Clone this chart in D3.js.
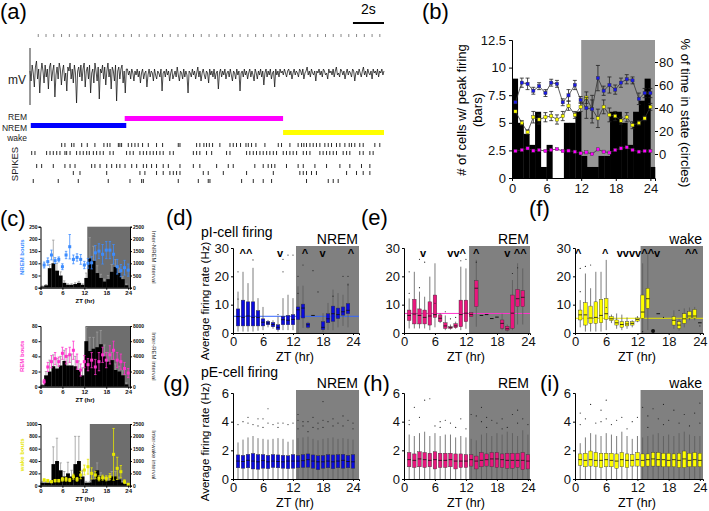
<!DOCTYPE html>
<html><head><meta charset="utf-8">
<script src="https://cdn.jsdelivr.net/npm/d3@7"></script>
<style>
body{margin:0;background:#fff}
svg{display:block}
text{font-family:"Liberation Sans",Arial,sans-serif}
</style></head>
<body><svg id="fig" width="709" height="511"></svg>
<script>
// ---------------- DATA ----------------
// (a) EEG trace (mV, arbitrary), spikes (s), sleep states
const traceSeconds = 22.8;
const traceMV = [0.2,-0.3,0.5,0.1,-0.6,0.4,0.7,-0.2,0.3,-0.9,0.1,0.6,0.2,-0.4,0.5,-0.1,0.3,-0.7,0.4,0.6,-0.3,0.2,0.5,-1.1,0.0,0.4,-0.2,0.6,0.3,-0.5,0.2,0.5,-0.3,0.1,-0.8,0.4,0.2,0.6,-0.2,0.3,-0.4,0.5,0.1,-1.4,0.2,0.4,-0.1,0.5,-0.3,0.3,0.6,-0.6,0.2,0.4,-0.2,0.5,-0.9,0.1,0.3,-0.4,0.6,0.2,-0.3,0.4,-1.2,0.3,0.1,0.5,-0.2,0.4,-0.5,0.2,0.6,-0.1,0.3,-0.7,0.4,0.2,-0.3,0.5,-1.3,0.2,0.4,-0.2,0.3,0.5,-0.4,0.2,-0.9,0.3,
0.3,0.0,0.2,-0.2,0.3,0.1,-0.3,0.2,0.0,0.3,-0.1,0.2,-0.4,0.1,0.3,-0.2,0.1,0.2,-0.6,0.0,0.3,-0.1,0.2,0.1,-0.3,0.3,0.0,-0.2,0.2,0.1,-0.1,0.3,-0.8,0.1,0.2,-0.1,0.3,0.0,0.2,-0.3,0.1,0.3,-0.2,0.0,0.2,-0.1,0.4,0.0,-0.3,0.2,0.1,-0.2,0.3,-0.1,0.2,0.0,-0.9,0.2,0.1,-0.1,0.3,0.0,0.2,-0.2,0.1,0.4,-0.1,0.2,-0.3,0.1,0.3,0.0,-0.2,0.2,0.1,-0.4,0.3,0.0,0.2,-0.1,0.3,-0.2,0.1,0.2,-0.7,0.1,0.3,-0.1,0.2,0.0,0.3,-0.2,0.1,0.2,-0.1,0.3,0.0,-0.3,0.2,0.1,-0.2,0.3,0.0,0.2,-0.8,0.1,0.2,-0.1,0.3,0.0,0.2,-0.2,0.1,0.3,-0.1,0.2,0.0,-0.3,0.3,0.1,-0.2,0.2,0.0,0.3,-0.1,0.2,-0.5,0.1,0.3,-0.1,0.2,0.0,0.3,-0.2,0.1,0.2,-0.6,0.3,0.0,0.2,-0.1,0.3,0.1,
0.2,0.0,0.3,0.1,-0.1,0.2,0.3,0.0,0.2,-0.2,0.1,0.3,0.0,0.2,0.1,-0.1,0.3,0.2,0.0,0.3,-0.2,0.1,0.2,0.4,0.0,0.2,-0.1,0.3,0.1,0.0,0.2,-0.3,0.2,0.1,0.3,0.0,0.2,-0.1,0.3,0.2,0.0,0.1,-0.2,0.3,0.1,0.2,0.0,0.3,-0.1,0.2,0.4,0.0,0.1,-0.1,0.3,0.2,0.0,0.2,-0.2,0.1,0.3,0.0,0.2,0.1,-0.1,0.3,0.2,-0.3,0.1,0.2,0.0,0.3,0.1,-0.1,0.2,0.4,0.0,0.2,-0.1,0.3,0.1,0.0,0.2,-0.2,0.3,0.1,0.2,0.0,0.3,-0.1,0.2,0.1,0.3,0.0,0.2];
const stateLabels = ["REM","NREM","wake"];
const stateSegments = [
  {state:"NREM", start:0.05, end:6.2},
  {state:"REM",  start:6.1,  end:16.3},
  {state:"wake", start:16.3, end:22.8}
];
const spikeRow1 = [2.04,2.25,2.68,2.83,3.33,3.69,4.18,4.76,4.98,5.15,5.69,5.79,5.9,6.33,6.55,6.76,6.97,7.25,7.62,8.15,8.54,9.55,9.66,10.73,10.94,11.2,11.37,11.55,11.76,12.23,12.88,13.09,13.3,13.56,13.91,14.06,14.27,14.55,15.13,15.99,16.2,16.74,17.27,17.49,17.64,17.81,18.03,18.24,18.45,18.67,18.99,19.21,19.42,19.74,19.96,20.28,20.56,20.71,20.92,21.24,21.46,22.21,22.53];
const spikeRow2 = [0.11,0.32,1.07,1.29,1.5,1.72,1.93,2.25,2.36,2.58,3.0,3.22,3.43,3.65,3.82,4.08,4.29,4.51,4.72,5.15,5.36,6.22,6.44,6.65,7.08,7.3,7.51,7.73,7.94,8.15,8.37,8.58,9.01,9.23,10.52,10.73,10.94,11.37,11.7,12.66,12.88,13.95,14.16,14.38,14.59,14.81,15.02,15.24,15.45,15.67,15.88,16.31,16.52,16.74,16.95,17.17,17.6,17.81,18.03,18.67,18.88,19.1,19.31,19.53,19.74,20.17,20.39,20.6,21.24,21.46,21.89,22.1];
const spikeRow3 = [0.43,0.75,1.5,2.25,2.58,2.9,3.97,4.18,4.51,4.94,5.26,5.58,5.79,6.12,6.55,6.87,7.3,7.51,7.83,8.15,8.58,8.91,9.66,10.52,10.94,12.02,12.77,13.09,14.48,15.02,15.34,15.56,15.77,16.52,17.27,17.6,18.35,19.1,19.96,20.6,21.35,21.89];
const spikeRow4 = [2.79,3.22,4.94,7.08,7.4,8.15,8.58,9.01,9.23,9.44,9.66,11.16,11.48,12.45,13.95,15.67,17.38,17.6,17.81,18.13,18.45,20.39,21.03,21.46,21.89];
const spikeRow5 = [0.21,1.82,3.11,5.04,6.44,7.19,7.3,9.55,10.84,11.48,11.59,13.63,14.38,15.02,15.56,17.81,19.21,19.53,19.85];

// (b) bars = # cells with peak firing per hour; circles = % time in state
const bCells = [9,5,4,3,6,1,3,0,0,5,5,6,2,1,1,2,2,6,6,5,3,6,7,9,1];
const bHours = [0.6,1.7,2.7,3.7,4.7,5.8,6.8,7.8,8.8,9.8,10.9,11.9,12.9,13.9,14.9,15.9,16.9,17.9,18.9,19.9,20.9,22,23,24];
const bNrem = [45,62,61,55,59,53,62,61,45,51,60,47,40,39,66,55,60,56,62,65,64,48,53,53];
const bNremErr = [0,4,5,3,3,3,3,3,3,5,4,3,9,12,11,4,7,4,4,4,3,5,4,4];
const bWake = [37,27,19,32,30,32,33,30,33,42,34,41,49,39,31,41,34,33,29,32,25,27,31,41];
const bWakeErr = [0,2,2,5,4,4,4,4,4,4,3,4,5,8,8,6,6,4,3,4,3,2,2,3];
const bRem = [2.6,3.5,4.9,2.9,3.5,2.6,3.5,4.3,2.6,2.9,2.0,0.6,1.4,0,4.0,2.0,1.2,3.5,4.9,5.8,3.5,2.0,2.6,2.6];

// (c) bout counts (points, left axis) and inter-bout intervals (bars, right axis)
const cNremBars = [50,100,800,1000,700,500,200,120,120,150,200,120,400,1200,1100,600,400,250,350,650,850,600,350,100];
const cNremBarErr = [20,30,150,950,300,150,80,40,40,50,60,40,200,850,600,300,150,100,150,300,300,200,100,50];
const cNremPts = [93,107,134,111,116,86,134,168,116,124,116,93,100,102,143,150,137,154,154,137,86,70,82,72];
const cNremPtErr = [12,15,20,12,10,12,15,50,18,15,20,15,20,25,30,30,40,35,35,40,30,25,30,25];
const cRemBars = [200,1500,2000,2700,2400,2800,3400,2800,2800,2700,2200,1500,6000,4700,5000,5200,5600,4000,3300,3500,2200,2000,1500,300];
const cRemBarErr = [100,500,1500,1500,1300,1200,1400,1300,1500,1300,1200,1000,1800,1800,1500,2000,1800,1500,1200,1000,800,700,600,200];
const cRemPts = [6.6,26,33,37,33,44,40,42,48,33,22,33,29,35,26,33,42,35,42,48,35,33,24,18];
const cRemPtErr = [3,6,8,8,6,8,10,10,12,10,8,8,8,10,10,12,10,10,12,12,10,10,8,6];
const cWakeBars = [125,125,125,875,1000,625,375,500,375,875,1000,375,125,125,250,625,375,250,200,375,375,250,125,75];
const cWakeBarErr = [50,50,50,700,925,300,200,450,250,1125,1000,250,50,50,150,300,150,100,100,200,200,100,50,30];
const cWakePts = [92,81,65,81,81,103,103,92,146,103,173,254,308,200,173,119,130,119,146,508,281,227,65,22];
const cWakePtErr = [20,20,15,20,20,30,30,25,40,30,60,80,120,90,60,40,40,40,50,420,180,100,30,15];

// (d)-(i) box plots: [hour, low whisker, q1, median, q3, high whisker]
const dBoxes = [[1,0.5,2.5,5.8,8.5,14.6],[2,0.5,2.5,5.5,11.6,21.6],[3,0.5,2.5,6.0,11.0,17.6],[4,0.5,2.5,5.5,11.0,23.0],[5,0.8,2.5,5.5,7.9,12.3],[6,1.0,2.5,3.8,5.0,9.2],[7,2.0,2.9,3.5,4.1,4.6],[8,1.5,2.2,3.0,3.7,4.5],[9,0.5,1.2,2.0,2.9,5.8],[10,1.0,2.9,4.7,5.9,12.3],[11,1.0,2.9,4.5,6.2,13.5],[12,1.0,2.9,4.8,6.5,12.3],[13,0.0,4.7,8.2,9.2,16.5],[14,1.8,5.3,8.8,10.2,16.7],[15,1.5,2.0,2.9,3.5,4.0],[16,6.2,6.2,6.2,6.2,6.2],[18,0.3,1.2,2.0,4.0,7.0],[19,1.0,3.6,5.0,6.8,10.6],[20,1.0,4.1,6.8,9.5,15.3],[21,2.0,5.1,6.5,8.8,14.1],[22,2.5,6.3,7.5,9.2,13.5],[23,2.0,6.8,8.0,10.4,17.6]];
const dOutliers = [[1,21.6],[1,12],[4,25.8],[9,6.5],[10,21.6],[10,26],[11,27.5],[12,27.5],[13,14],[13,20],[14,24],[17,14.5],[20,13],[22,20],[23,17],[23,20],[16,22]];
const eBoxes = [[1,1.6,4.4,6.2,8.1,12.2],[2,1.6,3.2,6.7,11.9,21.6],[3,1.6,3.2,6.2,8.5,14.6],[4,1.6,3.2,5.5,8.1,12.8],[5,1.0,2.8,6.0,11.0,19.9],[6,2.0,5.5,6.5,13.4,24.6],[7,3.5,4.0,5.2,6.4,7.0],[8,1.0,1.6,2.5,3.6,6.2],[9,1.2,1.6,2.0,2.2,3.0],[10,1.5,1.9,2.5,3.3,4.0],[11,1.0,2.2,6.5,11.6,23.4],[12,1.5,4.0,7.0,11.6,22.8],[13,5.8,5.8,6.5,7.2,7.2],[14,2.2,9.3,15.8,18.5,25.8],[15,6.2,6.2,6.2,6.2,6.2],[16,6.5,6.5,6.5,6.5,6.5],[17,5.1,5.1,5.1,5.1,5.1],[18,5.6,5.6,5.6,5.6,5.6],[19,1.0,1.6,3.4,4.6,6.8],[20,0.5,1.0,1.5,2.4,3.0],[21,1.0,1.6,7.0,13.4,18.7],[22,3.0,9.3,12.1,15.4,24.6],[23,3.0,9.3,12.6,14.9,22.8]];
const eOutliers = [[1,21.6],[1,14],[3,16],[3,26],[6,10.5],[8,7.5],[9,5],[10,5.5],[11,25.5],[12,26],[14,25],[21,21],[22,23],[4,25]];
const fBoxes = [[1,2.0,4.6,6.4,8.1,11.6],[2,0.5,2.8,6.4,10.7,21.0],[3,0.5,3.4,5.3,9.5,15.8],[4,0.5,3.4,5.5,11.0,21.6],[5,0.5,3.6,6.2,11.9,21.6],[6,1.0,4.8,6.8,12.2,25.8],[7,3.5,4.4,5.0,5.8,6.5],[8,1.5,2.8,3.6,4.6,6.9],[9,1.0,2.0,3.0,4.0,6.5],[10,1.5,2.5,3.2,4.0,5.5],[11,2.0,2.8,3.4,4.0,4.5],[12,3.8,4.2,4.8,5.3,6.0],[13,0.0,5.2,7.4,13.4,24.6],[14,1.0,8.7,12.1,15.8,28.1],[16,6.8,6.8,6.8,6.8,6.8],[19,1.5,2.8,4.5,5.8,8.0],[20,0.8,1.6,2.8,4.0,5.0],[21,2.0,3.4,5.0,6.8,8.7],[22,4.5,5.3,6.0,7.6,9.0],[23,4.5,5.3,6.0,8.3,9.2],[24,3.6,3.6,3.6,3.6,3.6]];
const fOutliers = [[1,14.6],[1,22.8],[3,24],[6,9],[13,0.5],[17,5.5],[20,8],[24,2.5],[2,23.5]];
const fBigDots = [[15,0.7]];
const gBoxes = [[1,0,0.78,1.25,1.68,2.55],[2,0,0.75,1.22,1.65,2.75],[3,0,0.78,1.3,1.72,2.9],[4,0,0.7,1.25,1.78,3.0],[5,0,0.68,1.2,1.7,2.85],[6,0,0.75,1.28,1.7,2.8],[7,0,0.72,1.2,1.65,2.75],[8,0,0.8,1.25,1.7,2.8],[9,0,0.78,1.22,1.68,2.85],[10,0,0.75,1.2,1.65,2.8],[11,0,0.72,1.25,1.62,2.6],[12,0,0.75,1.25,1.7,2.75],[13,0,0.78,1.25,1.65,2.85],[14,0,0.8,1.28,1.7,2.9],[15,0,0.82,1.35,1.75,2.95],[16,0,0.75,1.25,1.68,2.8],[17,0,0.65,1.2,1.62,2.7],[18,0,0.75,1.2,1.65,2.8],[19,0,0.78,1.25,1.7,2.85],[20,0,0.72,1.2,1.68,2.9],[21,0,0.78,1.25,1.7,2.8],[22,0,0.75,1.3,1.72,2.85],[23,0,0.78,1.22,1.65,2.8],[24,0,0.75,1.2,1.7,2.75]];
const gOutliers = [[1,3.8],[2,4.0],[3,3.9],[3,4.3],[4,3.8],[5,4.2],[5,3.7],[6,4.2],[6,3.6],[7,4.9],[7,3.9],[8,3.8],[9,3.9],[9,3.6],[10,3.9],[11,3.8],[12,3.9],[13,4.1],[13,4.5],[13,3.5],[14,3.7],[14,4.0],[15,4.0],[15,3.3],[16,4.3],[16,3.6],[17,3.9],[17,3.5],[18,5.4],[18,4.1],[18,3.6],[19,4.0],[20,4.2],[20,3.7],[21,3.9],[22,4.4],[22,3.7],[23,4.1],[24,3.9],[24,3.5]];
const hBoxes = [[1,0,0.85,1.35,1.85,3.1],[2,0,0.8,1.3,1.75,3.0],[3,0,0.85,1.4,1.9,3.2],[4,0,0.8,1.35,1.85,3.3],[5,0,0.85,1.3,1.8,3.0],[6,0,0.7,1.35,1.9,3.2],[7,0,0.8,1.3,1.8,3.0],[8,0,0.8,1.3,1.8,3.1],[9,0,0.85,1.35,1.8,3.1],[10,0,0.7,1.25,1.75,2.9],[11,0,0.8,1.25,1.75,3.0],[12,0,0.8,1.25,1.7,2.9],[13,0,0.9,1.35,1.7,2.8],[14,0,0.7,1.25,1.6,2.7],[15,0,0.85,1.3,1.85,3.1],[16,0,0.9,1.35,1.75,3.2],[17,0,0.85,1.4,1.85,3.0],[18,0,0.8,1.4,1.85,3.2],[19,0,0.8,1.35,1.75,3.1],[20,0,0.75,1.3,1.8,3.3],[21,0,0.75,1.3,1.8,3.2],[22,0,0.8,1.3,1.8,3.0],[23,0,0.65,1.3,1.85,3.4],[24,0,0.7,1.25,1.7,3.1]];
const hOutliers = [[1,4.1],[1,3.8],[2,5.0],[3,4.3],[4,5.5],[5,5.6],[6,3.7],[7,4.0],[7,3.6],[8,4.1],[9,3.9],[10,3.6],[11,4.2],[12,3.5],[13,4.5],[14,4.4],[15,5.0],[15,4.0],[16,4.3],[17,4.1],[18,3.9],[19,4.2],[20,3.6],[21,4.5],[22,4.8],[22,3.9],[23,4.2],[24,3.8],[16,3.6],[19,3.5]];
const iBoxes = [[1,0,0.95,1.35,1.75,2.5],[2,0,0.85,1.3,1.8,2.9],[3,0,0.9,1.35,1.95,3.2],[4,0,0.85,1.3,1.85,3.1],[5,0,0.8,1.3,1.8,3.0],[6,0,0.85,1.35,1.8,3.2],[7,0,0.85,1.3,1.8,3.1],[8,0,0.75,1.25,1.75,3.0],[9,0,0.85,1.35,1.85,3.3],[10,0,0.8,1.3,1.75,3.0],[11,0,0.9,1.3,1.7,2.8],[12,0,0.9,1.35,1.85,3.0],[13,0,0.85,1.3,1.75,2.9],[14,0,0.9,1.35,1.75,3.0],[15,0,0.9,1.4,1.85,3.1],[16,0,0.9,1.35,1.85,3.2],[17,0,0.85,1.35,1.8,3.0],[18,0,0.85,1.3,1.8,3.1],[19,0,0.85,1.35,1.75,3.0],[20,0,0.8,1.3,1.8,3.2],[21,0,0.8,1.4,1.95,3.3],[22,0,0.85,1.3,1.8,3.1],[23,0,0.85,1.35,1.85,3.0],[24,0,0.85,1.3,1.8,3.0]];
const iOutliers = [[1,4.6],[1,3.8],[2,4.2],[3,5.2],[4,3.9],[5,4.8],[5,4.0],[6,5.5],[6,4.2],[7,3.8],[8,4.1],[9,4.3],[10,3.5],[11,4.0],[12,4.3],[13,5.0],[14,4.4],[14,3.6],[15,4.9],[16,4.2],[17,5.2],[17,3.8],[18,4.1],[19,4.8],[20,3.9],[21,4.5],[22,3.7],[23,4.6],[24,3.9],[24,5.3]];
const meanRates = {d:5.9, e:6.9, f:5.2};
const dMarkers = [[2.6,"^^"],[9.4,"v"],[14.4,"^"],[17.9,"v"],[23.6,"^"]];
const eMarkers = [[3.7,"v"],[10.2,"vv^"],[14,"^"],[20,"v"],[22.5,"^^"]];
const fMarkers = [[0.6,"^"],[5.8,"^"],[12.2,"vvvv^^v"],[22.4,"^^"]];
const zTicks = [0,6,12,18,24];

// ---------------- DRAW ----------------
const svg = d3.select("#fig");
const C = {nrem:"#0000ff", rem:"#ff00ff", wake:"#ffff00"};
const fmt = d3.format("");
function label(txt,x,y,size,opts={}) {
  const t = svg.append("text").attr("x",x).attr("y",y).attr("font-size",size).text(txt);
  for (const k in opts) t.attr(k,opts[k]);
  return t;
}
function styleAxis(g, fs) {
  g.select(".domain").attr("stroke","#000");
  g.selectAll(".tick line").attr("stroke","#000");
  g.selectAll(".tick text").attr("font-size",fs).attr("fill","#111").attr("font-family",'"Liberation Sans",Arial,sans-serif');
}

// panel letters
[["(a)",0,19],["(b)",422,19],["(c)",0,226],["(d)",166,225],["(e)",361,225],["(f)",529,216],["(g)",163,391],["(h)",363,391],["(i)",540,391]]
  .forEach(([t,x,y]) => label(t,x,y,22));

// ---------- (a) ----------
(function(){
  const ax = d3.scaleLinear().domain([0,traceSeconds]).range([30,384]);
  const ay = d3.scaleLinear().domain([-1,1]).range([95,55]);
  const tg = svg.append("g").attr("transform","translate(0,37)")
    .call(d3.axisTop(ax).tickValues(d3.range(0.5,22.6,0.5)).tickSize(3).tickFormat(""));
  tg.select(".domain").remove();
  tg.selectAll(".tick line").attr("stroke","#555").attr("stroke-width",0.7);
  const dt = traceSeconds/(traceMV.length-1);
  svg.append("path").datum(traceMV)
    .attr("d", d3.line().x((d,i)=>ax(i*dt)).y(d=>ay(d)))
    .attr("fill","none").attr("stroke","#111").attr("stroke-width",0.75);
  svg.append("line").attr("x1",ax(0)).attr("x2",ax(0)).attr("y1",ay(1.35)).attr("y2",ay(-1.5)).attr("stroke","#333").attr("stroke-width",1);
  label("mV",8,84,12,{fill:"#222"});
  // scale bar 2 s
  svg.append("line").attr("x1",ax(traceSeconds-2)).attr("x2",ax(traceSeconds)).attr("y1",23).attr("y2",23).attr("stroke","#000").attr("stroke-width",2);
  label("2s",(ax(traceSeconds-2)+ax(traceSeconds))/2,14,14,{"text-anchor":"middle"});
  // hypnogram
  const sy = d3.scalePoint().domain(stateLabels).range([118.5,132.5]);
  const ly = d3.scalePoint().domain(stateLabels).range([120,141]);
  stateLabels.forEach(s => label(s,27,ly(s),8.5,{"text-anchor":"end",fill:"#222"}));
  svg.selectAll(".seg").data(stateSegments).enter().append("rect")
    .attr("x",d=>ax(d.start)).attr("width",d=>ax(d.end)-ax(d.start))
    .attr("y",d=>sy(d.state)-2.5).attr("height",5)
    .attr("fill",d=>C[d.state.toLowerCase()]);
  // spikes
  const rows = [spikeRow1,spikeRow2,spikeRow3,spikeRow4,spikeRow5];
  const ry = [145,153,166,173,181];
  rows.forEach((r,k)=>{
    svg.append("g").selectAll("line").data(r).enter().append("line")
      .attr("x1",d=>ax(d)).attr("x2",d=>ax(d)).attr("y1",ry[k]-2).attr("y2",ry[k]+2)
      .attr("stroke","#111").attr("stroke-width",0.9);
  });
  label("SPIKES",0,0,9.5,{transform:"translate(18,164) rotate(-90)","text-anchor":"middle",fill:"#222"});
})();

// ---------- (b) ----------
(function(){
  const bx = d3.scaleLinear().domain([0,24.8]).range([512,655]);
  const byL = d3.scaleLinear().domain([0,12.5]).range([178,40]);
  const byR = d3.scaleLinear().domain([0,80]).range([154,62]);
  svg.append("rect").attr("x",bx(12)).attr("y",40).attr("width",655-bx(12)).attr("height",138).attr("fill","#969696");
  svg.append("g").selectAll("rect").data(bCells).enter().append("rect")
    .attr("x",(d,i)=>bx(i)).attr("width",(d,i)=>bx(Math.min(i+1,24.8))-bx(i)+0.3)
    .attr("y",d=>byL(d)).attr("height",d=>178-byL(d)).attr("fill","#000");
  const series = [[bWake,bWakeErr,C.wake],[bNrem,bNremErr,"#1a1ae6"],[bRem,null,C.rem]];
  series.forEach(([vals,errs,col])=>{
    const g = svg.append("g");
    g.append("path").datum(vals).attr("d",d3.line().x((d,i)=>bx(bHours[i])).y(d=>byR(d)))
      .attr("fill","none").attr("stroke","#333").attr("stroke-width",0.8);
    if (errs) vals.forEach((v,i)=>{
      if (!errs[i]) return;
      const x = bx(bHours[i]);
      g.append("line").attr("x1",x).attr("x2",x).attr("y1",byR(v-errs[i])).attr("y2",byR(v+errs[i])).attr("stroke","#222").attr("stroke-width",0.8);
      [v-errs[i],v+errs[i]].forEach(e=>g.append("line").attr("x1",x-2).attr("x2",x+2).attr("y1",byR(e)).attr("y2",byR(e)).attr("stroke","#222").attr("stroke-width",0.8));
    });
    g.selectAll("rect").data(vals).enter().append("rect")
      .attr("x",(d,i)=>bx(bHours[i])-1.6).attr("y",d=>byR(d)-1.6).attr("width",3.2).attr("height",3.2)
      .attr("fill",col).attr("stroke","#333").attr("stroke-width",0.4);
  });
  const la = svg.append("g").attr("transform","translate(512,0)")
    .call(d3.axisLeft(byL).tickValues([0,2.5,5,7.5,10,12.5]).tickSize(3).tickFormat(fmt));
  styleAxis(la,13);
  const ba = svg.append("g").attr("transform","translate(0,178)")
    .call(d3.axisBottom(bx).tickValues(zTicks).tickSize(3).tickFormat(fmt));
  styleAxis(ba,13);
  const ra = svg.append("g").attr("transform","translate(655,0)")
    .call(d3.axisRight(byR).tickValues([0,20,40,60,80]).tickSize(3).tickPadding(1).tickFormat(fmt));
  ra.select(".domain").remove();
  styleAxis(ra,13);
  label("# of cells w/ peak firing",0,0,13,{transform:"translate(466,110) rotate(-90)","text-anchor":"middle"});
  label("(bars)",0,0,13,{transform:"translate(482,110) rotate(-90)","text-anchor":"middle"});
  label("% of time in state (circles)",0,0,13,{transform:"translate(681,113) rotate(90)","text-anchor":"middle"});
})();

// ---------- (c) ----------
(function(){
  const cx = d3.scaleLinear().domain([0,24.5]).range([40.5,130]);
  const subs = [
    {top:226.7,bot:287.7,lMax:250,lT:[0,50,100,150,200,250],rMax:2500,rT:[0,500,1000,1500,2000,2500],dark:12.8,bars:cNremBars,bErr:cNremBarErr,pts:cNremPts,pErr:cNremPtErr,col:"#3c8cff",lab:"NREM bouts",rlab:"Inter-NREM interval"},
    {top:326,bot:386.7,lMax:80,lT:[0,20,40,60,80],rMax:8000,rT:[0,2000,4000,6000,8000],dark:12.3,bars:cRemBars,bErr:cRemBarErr,pts:cRemPts,pErr:cRemPtErr,col:"#ff33cc",lab:"REM bouts",rlab:"Inter-REM interval"},
    {top:424,bot:485.7,lMax:1000,lT:[0,200,400,600,800,1000],rMax:2500,rT:[0,500,1000,1500,2000,2500],dark:13.5,bars:cWakeBars,bErr:cWakeBarErr,pts:cWakePts,pErr:cWakePtErr,col:"#e6e600",lab:"wake bouts",rlab:"Inter-wake interval"}
  ];
  subs.forEach(s=>{
    const yl = d3.scaleLinear().domain([0,s.lMax]).range([s.bot,s.top]);
    const yr = d3.scaleLinear().domain([0,s.rMax]).range([s.bot,s.top]);
    const g = svg.append("g");
    g.append("rect").attr("x",cx(s.dark)).attr("y",s.top).attr("width",130-cx(s.dark)).attr("height",s.bot-s.top).attr("fill","#6e6e6e");
    s.bars.forEach((v,i)=>{
      const xm = cx(i+0.5);
      g.append("line").attr("x1",xm).attr("x2",xm).attr("y1",yr(v)).attr("y2",yr(v+s.bErr[i])).attr("stroke","#9a9a9a").attr("stroke-width",0.8);
      g.append("line").attr("x1",xm-1.2).attr("x2",xm+1.2).attr("y1",yr(v+s.bErr[i])).attr("y2",yr(v+s.bErr[i])).attr("stroke","#9a9a9a").attr("stroke-width",0.8);
    });
    g.selectAll(".bar").data(s.bars).enter().append("rect")
      .attr("x",(d,i)=>cx(i)).attr("width",cx(1)-cx(0)+0.2).attr("y",d=>yr(d)).attr("height",d=>s.bot-yr(d)).attr("fill","#000");
    s.pts.forEach((v,i)=>{
      const xm = cx(i+1);
      g.append("line").attr("x1",xm).attr("x2",xm).attr("y1",yl(Math.max(0,v-s.pErr[i]))).attr("y2",yl(v+s.pErr[i])).attr("stroke",s.col).attr("stroke-width",0.8);
      [Math.max(0,v-s.pErr[i]),v+s.pErr[i]].forEach(e=>g.append("line").attr("x1",xm-1.2).attr("x2",xm+1.2).attr("y1",yl(e)).attr("y2",yl(e)).attr("stroke",s.col).attr("stroke-width",0.8));
      g.append("rect").attr("x",xm-1.5).attr("y",yl(v)-1.5).attr("width",3).attr("height",3).attr("fill",s.col);
    });
    const la = g.append("g").attr("transform","translate(40.5,0)").call(d3.axisLeft(yl).tickValues(s.lT).tickSize(2).tickPadding(1).tickFormat(fmt));
    styleAxis(la,5);
    const ra = g.append("g").attr("transform","translate(130,0)").call(d3.axisRight(yr).tickValues(s.rT).tickSize(2).tickPadding(1).tickFormat(fmt));
    styleAxis(ra,5);
    const ba = g.append("g").attr("transform",`translate(0,${s.bot})`).call(d3.axisBottom(cx).tickValues(zTicks).tickSize(2).tickPadding(1).tickFormat(fmt));
    styleAxis(ba,6);
    g.selectAll("text").attr("font-weight","bold");
    label("ZT (hr)",85,s.bot+15,6,{"text-anchor":"middle","font-weight":"bold"});
    label(s.lab,0,0,6,{transform:`translate(24,${(s.top+s.bot)/2}) rotate(-90)`,"text-anchor":"middle",fill:s.col,"font-weight":"bold"});
    label(s.rlab,0,0,6,{transform:`translate(152,${(s.top+s.bot)/2}) rotate(90)`,"text-anchor":"middle",fill:"#333"});
  });
})();

// ---------- (d)-(i) ----------
function boxPanel(p){
  const g = svg.append("g");
  const xs = d3.scaleLinear().domain([0,p.xMax]).range([p.left,p.right]);
  const ys = d3.scaleLinear().domain([0,p.yMax]).range([p.bot,p.topVal]);
  g.append("rect").attr("x",xs(12.6)).attr("y",p.grayTop).attr("width",p.right-xs(12.6)).attr("height",p.bot-p.grayTop).attr("fill","#808080");
  if (p.mean!=null) g.append("line").attr("x1",p.left).attr("x2",p.right).attr("y1",ys(p.mean)).attr("y2",ys(p.mean)).attr("stroke",p.meanCol).attr("stroke-width",1);
  const w = 3.6;
  p.boxes.forEach(([h,lo,q1,med,q3,hi])=>{
    const x = xs(h);
    if (hi===lo) { g.append("line").attr("x1",x-w/2).attr("x2",x+w/2).attr("y1",ys(med)).attr("y2",ys(med)).attr("stroke","#111").attr("stroke-width",1); return; }
    g.append("line").attr("x1",x).attr("x2",x).attr("y1",ys(lo)).attr("y2",ys(hi)).attr("stroke","#5a5a5a").attr("stroke-width",0.8);
    g.append("rect").attr("x",x-w/2).attr("width",w).attr("y",ys(q3)).attr("height",Math.max(1,ys(q1)-ys(q3)))
      .attr("fill",p.col).attr("stroke","#333").attr("stroke-width",0.4);
    g.append("line").attr("x1",x-w/2).attr("x2",x+w/2).attr("y1",ys(med)).attr("y2",ys(med)).attr("stroke","#111").attr("stroke-width",0.8);
  });
  g.selectAll(".o").data(p.outliers).enter().append("circle").attr("cx",d=>xs(d[0])).attr("cy",d=>ys(d[1])).attr("r",0.6).attr("fill","#222");
  if (p.big) g.selectAll(".b").data(p.big).enter().append("circle").attr("cx",d=>xs(d[0])).attr("cy",d=>ys(d[1])).attr("r",2).attr("fill","#111");
  const la = g.append("g").attr("transform",`translate(${p.left},0)`).call(d3.axisLeft(ys).tickValues(p.yT).tickSize(2).tickPadding(2).tickFormat(fmt));
  styleAxis(la,13);
  const ba = g.append("g").attr("transform",`translate(0,${p.bot})`).call(d3.axisBottom(xs).tickValues(zTicks).tickSize(2).tickPadding(2).tickFormat(fmt));
  styleAxis(ba,13);
  label("ZT (hr)",p.left+62,p.bot+28,12.5,{"text-anchor":"middle"});
  label(p.title,p.right-1,p.grayTop-2,14,{"text-anchor":"end"});
  if (p.markers) p.markers.forEach(([h,s])=>label(s,xs(h),p.markY,11,{"text-anchor":"middle","font-weight":"bold"}));
}
const topRow = {bot:333,topVal:248,grayTop:246,yMax:30,yT:[0,10,20,30],markY:257};
const botRow = {bot:479,topVal:393,grayTop:390,yMax:6,yT:[0,2,4,6]};
boxPanel(Object.assign({},topRow,{left:233,right:359,xMax:25.2,boxes:dBoxes,outliers:dOutliers,col:"#0a0ae0",mean:meanRates.d,meanCol:"#3366ff",title:"NREM",markers:dMarkers}));
boxPanel(Object.assign({},topRow,{left:404,right:530,xMax:24.4,boxes:eBoxes,outliers:eOutliers,col:"#e8177d",mean:meanRates.e,meanCol:"#ff33cc",title:"REM",markers:eMarkers}));
boxPanel(Object.assign({},topRow,{left:575,right:703,xMax:24.6,boxes:fBoxes,outliers:fOutliers,big:fBigDots,col:"#ffff00",mean:meanRates.f,meanCol:"#e6e600",title:"wake",markers:fMarkers}));
boxPanel(Object.assign({},botRow,{left:233,right:359,xMax:25.2,boxes:gBoxes,outliers:gOutliers,col:"#0a0ae0",title:"NREM"}));
boxPanel(Object.assign({},botRow,{left:404,right:530,xMax:24.4,boxes:hBoxes,outliers:hOutliers,col:"#e8177d",title:"REM"}));
boxPanel(Object.assign({},botRow,{left:575,right:703,xMax:24.6,boxes:iBoxes,outliers:iOutliers,col:"#ffff00",title:"wake"}));
label("pI-cell firing",201,237,14);
label("pE-cell firing",201,377,14);
label("Average firing rate (Hz)",0,0,11.5,{transform:"translate(209,301) rotate(-90)","text-anchor":"middle"});
label("Average firing rate (Hz)",0,0,11.5,{transform:"translate(209,442) rotate(-90)","text-anchor":"middle"});
</script></body></html>
